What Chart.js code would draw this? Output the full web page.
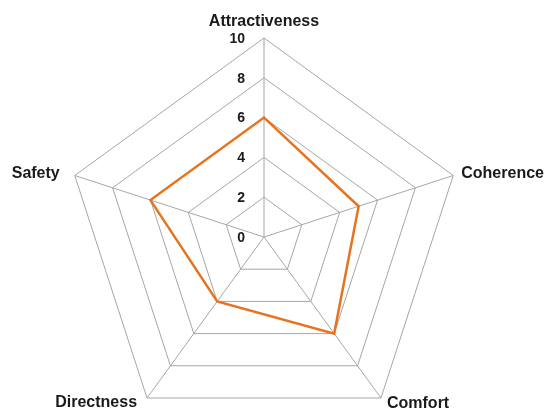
<!DOCTYPE html>
<html>
<head>
<meta charset="utf-8">
<script src="https://cdn.jsdelivr.net/npm/chart.js@4"></script>
<style>
    html, body { margin: 0; padding: 0; background: #fff; }
    #wrap { width: 550px; height: 415px; }
</style>
</head>
<body>
<div id="wrap"><canvas id="radarChart"></canvas></div>
<script>
// Chart data
const categories = ['Attractiveness', 'Coherence', 'Comfort', 'Directness', 'Safety'];
const scores = [6, 5, 6, 4, 6];
const tickValues = [0, 2, 4, 6, 8, 10];

const textColor = '#1a1a1a';
const labelFont = 'bold 16px "Liberation Sans", Arial, sans-serif';
const tickFont = 'bold 14px "Liberation Sans", Arial, sans-serif';

// Draw category names and tick numbers the way the original places them
const labelPlugin = {
    id: 'radarLabels',
    afterDraw(chart) {
        const scale = chart.scales.r;
        const c = chart.ctx;
        c.save();
        c.fillStyle = textColor;

        // tick labels sit left of the vertical axis
        c.font = tickFont;
        c.textAlign = 'right';
        c.textBaseline = 'middle';
        tickValues.forEach(v => {
            const p = scale.getPointPositionForValue(0, v);
            c.fillText(String(v), p.x - 19, p.y + 1);
        });

        // category labels just outside the outer ring
        c.font = labelFont;
        categories.forEach((name, i) => {
            const p = scale.getPointPositionForValue(i, scale.max);
            const dx = p.x - scale.xCenter;
            const dy = p.y - scale.yCenter;
            let x = p.x, y = p.y;
            if (Math.abs(dx) < 5) {
                c.textAlign = 'center';
                c.textBaseline = 'alphabetic';
                y -= 12;
            } else if (dy > 0) {
                c.textBaseline = 'top';
                c.textAlign = dx > 0 ? 'left' : 'right';
                x += dx > 0 ? 6 : -10;
                y += dx > 0 ? -2 : -3;
            } else {
                c.textBaseline = 'middle';
                c.textAlign = dx > 0 ? 'left' : 'right';
                x += dx > 0 ? 8 : -15;
                y -= 2;
            }
            c.fillText(name, x, y);
        });
        c.restore();
    }
};

const ctx = document.getElementById('radarChart').getContext('2d');
new Chart(ctx, {
    type: 'radar',
    data: {
        labels: categories,
        datasets: [{
            data: scores,
            borderColor: '#E8731E',
            borderWidth: 2.5,
            backgroundColor: 'transparent',
            fill: false,
            pointRadius: 0,
            pointHoverRadius: 0,
            tension: 0
        }]
    },
    options: {
        responsive: true,
        maintainAspectRatio: false,
        animation: false,
        plugins: {
            legend: { display: false },
            tooltip: { enabled: false }
        },
        scales: {
            r: {
                min: 0,
                max: 10,
                afterBuildTicks: scale => {
                    scale.ticks = tickValues.map(v => ({ value: v }));
                },
                // place the web where the original has it
                afterFit: scale => {
                    scale.xCenter = 264;
                    scale.yCenter = 237;
                    scale.drawingArea = 199;
                },
                grid: { color: '#a6a6a6', lineWidth: 1 },
                angleLines: { color: '#a6a6a6', lineWidth: 1 },
                ticks: { display: false },
                pointLabels: { display: false }
            }
        }
    },
    plugins: [labelPlugin]
});
</script>
</body>
</html>
